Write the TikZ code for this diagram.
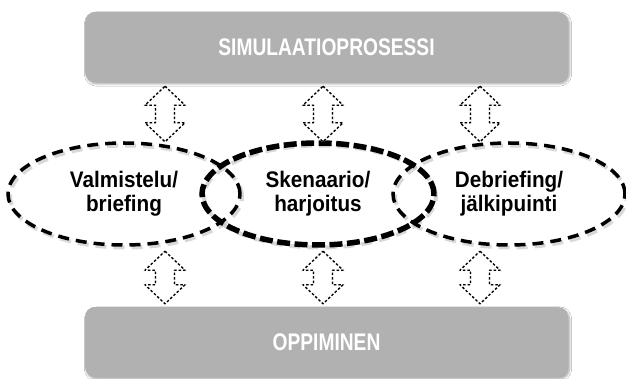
\documentclass[tikz,border=0pt]{standalone}
\usepackage{fontspec}
\setmainfont{Liberation Sans}
\newfontfamily\boxfont[FakeStretch=0.8,BoldFont={Liberation Sans Bold},BoldFeatures={FakeStretch=0.8}]{Liberation Sans}
\newfontfamily\elfont[FakeStretch=0.92,BoldFont={Liberation Sans Bold},BoldFeatures={FakeStretch=0.92}]{Liberation Sans}
\usetikzlibrary{shapes.geometric,shadows.blur,calc}
\definecolor{boxgray}{RGB}{177,177,177}
\tikzset{
  graybox/.style={rectangle, rounded corners=10pt, fill=boxgray, draw=none,
    minimum width=483pt, minimum height=70pt, inner sep=0pt,
    text=white, font=\boxfont\bfseries\fontsize{24}{26}\selectfont,
    blur shadow={shadow xshift=1.5pt, shadow yshift=-2pt, shadow blur steps=6, shadow opacity=35}},
  phase/.style={ellipse, minimum width=232pt, minimum height=102pt, inner sep=0pt,
    align=center, font=\elfont\bfseries\fontsize{22.5}{24}\selectfont},
  thinring/.style={draw=black, line width=3.5pt, dash pattern=on 11pt off 7pt},
  thickring/.style={draw=black, line width=5.5pt, dash pattern=on 13pt off 4.5pt},
  ringshadow/.style={draw=black!25, line width=4pt},
  darr/.style={draw=black, line width=1.3pt, dash pattern=on 2.5pt off 2pt, line join=round},
  darrshadow/.style={draw=black!15, line width=1.6pt, dash pattern=on 2.5pt off 2pt},
}
\newcommand\DArrPath[3]{% #1 style, #2 top tip, #3 bottom tip
  \draw[#1] let \p1=(#2), \p2=(#3) in
    (\x1,\y1) -- ({\x1+20pt},{\y1-19pt}) -- ({\x1+9.5pt},{\y1-19pt})
    -- ({\x1+9.5pt},{\y2+19pt}) -- ({\x1+20pt},{\y2+19pt}) -- (\x2,\y2)
    -- ({\x1-20pt},{\y2+19pt}) -- ({\x1-9.5pt},{\y2+19pt})
    -- ({\x1-9.5pt},{\y1-19pt}) -- ({\x1-20pt},{\y1-19pt}) -- cycle;}
\newcommand\DArr[2]{%
  \begin{scope}[shift={(1.5pt,-1.5pt)}]\DArrPath{darrshadow}{#1}{#2}\end{scope}
  \DArrPath{darr}{#1}{#2}}
\begin{document}
\begin{tikzpicture}[x=1pt,y=-1pt]
\useasboundingbox (0,0) rectangle (626,379);
\fill[white] (0,0) rectangle (626,379);
% boxes
\node[graybox] (sim) at (326.5,47) {SIMULAATIOPROSESSI};
\node[graybox] (opp) at (326.5,342) {OPPIMINEN};
% phase ellipses (text nodes)
\node[phase] (e1) at (124,194) {Valmistelu/\\briefing};
\node[phase] (e2) at (318,194) {Skenaario/\\harjoitus};
\node[phase] (e3) at (509,194) {Debriefing/\\jälkipuinti};
% ring shadows
\foreach \e in {e1,e2,e3}
  \draw[ringshadow, dash pattern=on 11pt off 7pt, opacity=0.6]
    ([shift={(2,2.5)}]\e.center) ellipse [x radius=116pt, y radius=51pt];
% rings
\draw[thinring] (e1.center) ellipse [x radius=116pt, y radius=51pt];
\draw[thinring] (e3.center) ellipse [x radius=116pt, y radius=51pt];
\draw[thickring] (e2.center) ellipse [x radius=116pt, y radius=51pt];
% arrow positions
\coordinate (x1) at (165,0);
\coordinate (x2) at (323,0);
\coordinate (x3) at (480,0);
\coordinate (t1) at ($(x1 |- sim.south)+(0,4)$);
\coordinate (t2) at ($(x2 |- sim.south)+(0,4)$);
\coordinate (t3) at ($(x3 |- sim.south)+(0,4)$);
\coordinate (m1) at ($(x1 |- e2.north)+(0,-1)$);
\coordinate (m2) at ($(x2 |- e2.north)+(0,-1)$);
\coordinate (m3) at ($(x3 |- e2.north)+(0,-1)$);
\coordinate (n1) at ($(x1 |- e2.south)+(0,6)$);
\coordinate (n2) at ($(x2 |- e2.south)+(0,6)$);
\coordinate (n3) at ($(x3 |- e2.south)+(0,6)$);
\coordinate (b1) at ($(x1 |- opp.north)+(0,-3)$);
\coordinate (b2) at ($(x2 |- opp.north)+(0,-3)$);
\coordinate (b3) at ($(x3 |- opp.north)+(0,-3)$);
\DArr{t1}{m1}\DArr{t2}{m2}\DArr{t3}{m3}
\DArr{n1}{b1}\DArr{n2}{b2}\DArr{n3}{b3}
\end{tikzpicture}
\end{document}
